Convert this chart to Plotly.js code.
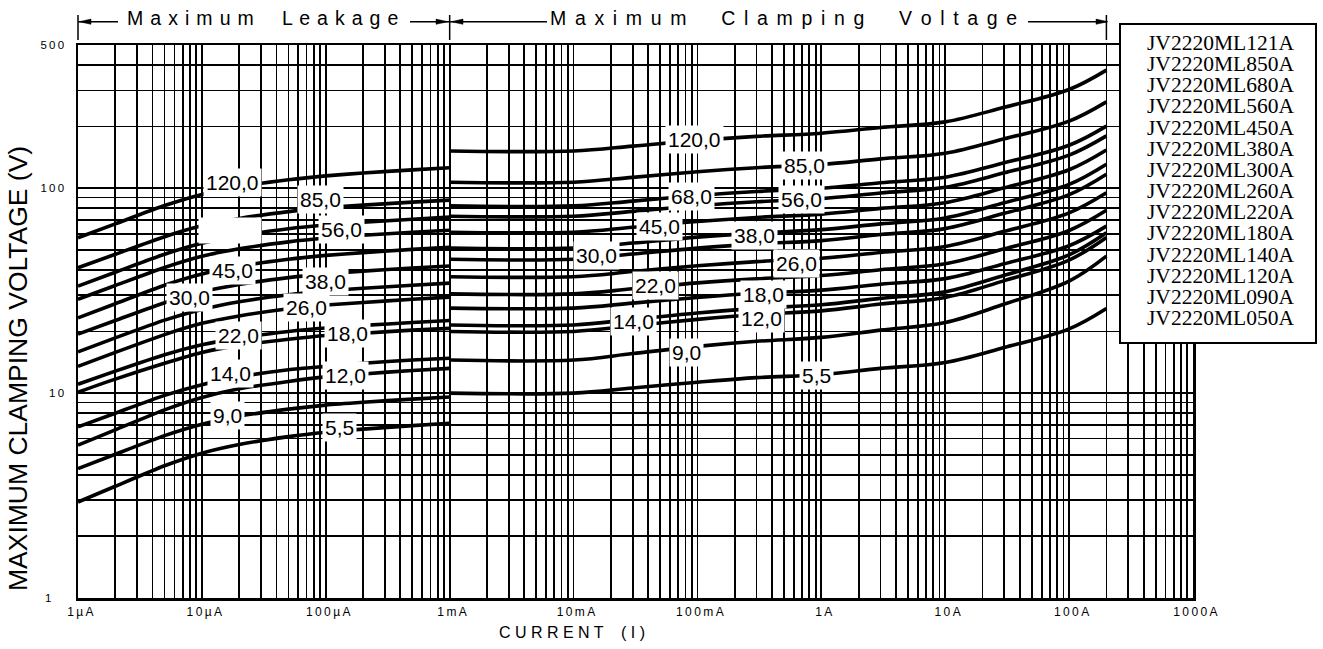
<!DOCTYPE html>
<html><head><meta charset="utf-8">
<script src="https://cdn.plot.ly/plotly-3.0.1.min.js"></script>
<style>html,body{margin:0;padding:0;background:#fff;}#chart{width:1323px;height:649px;}</style>
</head><body><div id="chart"></div>
<script>
// ---------------- DATA ----------------
const leakCurrent  = [1e-6, 2e-6, 5e-6, 1e-5, 2e-5, 5e-5, 1e-4, 2e-4, 5e-4, 1e-3];
const clampCurrent = [1e-3, 1e-2, 3e-2, 1e-1, 3e-1, 1, 3, 10, 30, 100, 200];

const models = ['JV2220ML121A','JV2220ML850A','JV2220ML680A','JV2220ML560A','JV2220ML450A','JV2220ML380A','JV2220ML300A',
                'JV2220ML260A','JV2220ML220A','JV2220ML180A','JV2220ML140A','JV2220ML120A','JV2220ML090A','JV2220ML050A'];
const curveLabels = ['120,0','85,0','68,0','56,0','45,0','38,0','30,0','26,0','22,0','18,0','14,0','12,0','9,0','5,5'];

// leakage region (1µA .. 1mA), volts
const leak121 = [57.3, 67.0, 82.3, 93.3, 101.8, 110.0, 114.9, 118.6, 122.9, 125.8];
const leak850 = [40.9, 47.6, 58.0, 65.5, 71.2, 76.9, 80.2, 82.7, 85.5, 87.5];
const leak680 = [33.3, 38.9, 47.6, 53.8, 58.6, 63.4, 66.1, 68.2, 70.6, 72.3];
const leak560 = [28.7, 33.5, 41.0, 46.5, 50.6, 54.7, 57.1, 58.9, 61.0, 62.4];
const leak450 = [23.3, 27.3, 33.6, 38.1, 41.6, 45.0, 47.0, 48.5, 50.3, 51.5];
const leak380 = [19.4, 22.6, 27.6, 31.2, 33.9, 36.6, 38.2, 39.4, 40.8, 41.7];
const leak300 = [15.9, 18.6, 22.7, 25.6, 27.9, 30.2, 31.5, 32.5, 33.6, 34.4];
const leak260 = [13.5, 15.8, 19.3, 21.9, 23.8, 25.8, 26.9, 27.7, 28.7, 29.4];
const leak220 = [11.05, 12.8, 15.4, 17.2, 18.6, 20.0, 20.8, 21.4, 22.1, 22.6];
const leak180 = [10.1, 11.7, 14.0, 15.8, 17.1, 18.3, 19.1, 19.6, 20.3, 20.7];
const leak140 = [6.84, 7.98, 9.75, 11.0, 12.0, 13.0, 13.5, 14.0, 14.5, 14.8];
const leak120 = [5.57, 6.62, 8.28, 9.51, 10.5, 11.4, 12.0, 12.4, 12.9, 13.2];
const leak090 = [4.28, 5.03, 6.20, 7.05, 7.71, 8.35, 8.74, 9.02, 9.35, 9.58];
const leak050 = [2.94, 3.51, 4.42, 5.09, 5.61, 6.13, 6.44, 6.67, 6.94, 7.13];

// clamping region (1mA .. 200A), volts
const clamp121 = [152, 152, 160.5, 171.2, 179.1, 185.6, 197.8, 210.8, 248.2, 303.1, 377];
const clamp850 = [107, 107, 113.0, 120.3, 125.9, 130.5, 139.0, 148.1, 174.2, 212.6, 264];
const clamp680 = [82, 82, 86.5, 92.1, 96.4, 99.9, 106.3, 113.2, 133.1, 162.1, 201];
const clamp560 = [73, 73, 77.1, 82.1, 85.9, 89.0, 94.8, 101.0, 118.9, 145.0, 180];
const clamp450 = [61, 61, 64.5, 68.8, 72.0, 74.7, 79.7, 85.0, 100.4, 123.0, 153.5];
const clamp380 = [51, 51, 54.0, 57.7, 60.4, 62.8, 67.0, 71.6, 84.9, 104.4, 131];
const clamp300 = [45, 45, 47.7, 51.0, 53.5, 55.5, 59.4, 63.5, 75.4, 93.0, 117];
const clamp260 = [37, 37, 39.2, 41.8, 43.8, 45.5, 48.6, 52.0, 61.6, 75.8, 95];
const clamp220 = [30.5, 30.5, 32.3, 34.5, 36.1, 37.5, 40.0, 42.8, 50.6, 62.2, 78];
const clamp180 = [26, 26, 27.5, 29.3, 30.7, 31.8, 34.0, 36.2, 42.8, 52.4, 65.3];
const clamp140 = [21.5, 21.5, 22.9, 24.6, 25.9, 27.0, 29.0, 31.2, 37.6, 47.3, 60.6];
const clamp120 = [20, 20, 21.3, 22.9, 24.2, 25.2, 27.2, 29.3, 35.4, 44.6, 57.5];
const clamp090 = [14.5, 14.5, 15.6, 16.9, 17.9, 18.7, 20.3, 22.1, 27.2, 35.2, 46.6];
const clamp050 = [10, 10, 10.6, 11.3, 11.9, 12.3, 13.2, 14.1, 16.7, 20.6, 25.9];

// label anchor points (current A, voltage V)
const leakLabelI  = [1.78e-5, 9.14e-5, 1.69e-5, 1.33e-4, 1.78e-5, 9.86e-5, 8.0e-6, 7.05e-5, 1.99e-5, 1.51e-4, 1.69e-5, 1.43e-4, 1.6e-5, 1.28e-4];
const leakLabelV  = [107.1, 88.5, 62.4, 63.1, 39.8, 35.2, 29.4, 26.3, 19.2, 19.6, 12.5, 12.2, 7.8, 6.8];
const clampLabelI = [0.095, 0.738, 0.0897, 0.697, 0.0498, 0.291, 0.01535, 0.631, 0.0462, 0.34, 0.0303, 0.33, 0.0819, 0.916];
const clampLabelV = [173.7, 129.7, 90.8, 88.5, 65.3, 59.0, 47.1, 42.9, 33.6, 30.3, 22.3, 23.1, 15.8, 12.2];

// axes
const xDecades = [1e-6, 1e-5, 1e-4, 1e-3, 1e-2, 1e-1, 1, 10, 100, 1000];
const xDecadeLabels = ['1µA','10µA','100µA','1mA','10mA','100mA','1A','10A','100A','1000A'];
const yLabelVals = [1, 10, 100, 500];
const yLabelText = ['1', '10', '100', '500'];

const titleLeak = 'Maximum Leakage';
const titleClamp = 'Maximum Clamping Voltage';
const xTitle = 'CURRENT (I)';
const yTitle = 'MAXIMUM CLAMPING VOLTAGE (V)';

// ---------------- BUILD ----------------
const leakSeries  = [leak121, leak850, leak680, leak560, leak450, leak380, leak300, leak260, leak220, leak180, leak140, leak120, leak090, leak050];
const clampSeries = [clamp121, clamp850, clamp680, clamp560, clamp450, clamp380, clamp300, clamp260, clamp220, clamp180, clamp140, clamp120, clamp090, clamp050];

const spaced = (s, sep) => s.split('').map(c => c === ' ' ? sep + sep : c).join(sep);

const leakStyle  = {color: '#000', width: 3.6, shape: 'spline', smoothing: 0.6};
const clampStyle = {color: '#000', width: 3.6, shape: 'spline', smoothing: 1.0};
const traces = [];
models.forEach((m, i) => {
  traces.push({type: 'scatter', mode: 'lines', name: m, x: leakCurrent, y: leakSeries[i], line: leakStyle, showlegend: false, hoverinfo: 'skip'});
  traces.push({type: 'scatter', mode: 'lines', name: m, x: clampCurrent, y: clampSeries[i], line: clampStyle, showlegend: false, hoverinfo: 'skip'});
});

// gridlines at every 1..9 multiple
const xGrid = [], xText = [];
xDecades.forEach((d, k) => {
  const mults = k < xDecades.length - 1 ? [1,2,3,4,5,6,7,8,9] : [1];
  mults.forEach(m => { xGrid.push(d * m); xText.push(m === 1 ? '\u2009\u2009' + spaced(xDecadeLabels[k], '\u2009') : ''); });
});
const yGrid = [], yText = [];
[1, 10, 100].forEach(d => {
  const mults = d === 100 ? [1,2,3,4,5] : [1,2,3,4,5,6,7,8,9];
  mults.forEach(m => {
    const v = d * m;
    const idx = yLabelVals.indexOf(v);
    let t = idx >= 0 ? spaced(yLabelText[idx], '\u2009') : '';
    if (v === 1) t = t + '\u00a0\u00a0\u00a0\u00a0';
    yGrid.push(v); yText.push(t);
  });
});

// pixel helpers for decorations (plot area 78..1193 x 45..598)
const PL = 78, PT = 45, PW = 1115, PH = 553;
const px = p => (p - PL) / PW;
const py = p => (PT + PH - p) / PH;
const xFrac = v => (Math.log10(v) + 6) / 9;

const sans = 'Liberation Sans, Arial, sans-serif';

const annotations = [];
// curve labels
curveLabels.forEach((t, i) => {
  const blank = (i === 2);
  const a = {xref: 'x', yref: 'y', x: Math.log10(leakLabelI[i]), y: Math.log10(leakLabelV[i]),
             text: blank ? '\u00a0' : t, showarrow: false, bgcolor: '#fff', borderpad: 2,
             font: {family: sans, size: 21, color: '#000'}};
  if (blank) { a.width = 58; a.height = 21; }
  annotations.push(a);
  annotations.push({xref: 'x', yref: 'y', x: Math.log10(clampLabelI[i]), y: Math.log10(clampLabelV[i]),
             text: t, showarrow: false, bgcolor: '#fff', borderpad: 2,
             font: {family: sans, size: 21, color: '#000'}});
});
// legend entries
models.forEach((m, i) => {
  annotations.push({xref: 'paper', yref: 'paper', x: px(1145), y: py(43 + i * 21.15), xanchor: 'left', yanchor: 'middle',
    text: m, showarrow: false, font: {family: 'Liberation Serif, Times New Roman, serif', size: 21.5, color: '#000'}});
});
// top titles
annotations.push({xref: 'paper', yref: 'paper', x: px(262), y: py(18), xanchor: 'center', yanchor: 'middle',
  text: spaced(titleLeak, ' \u200a'), showarrow: false, font: {family: sans, size: 19.5, color: '#000'}});
annotations.push({xref: 'paper', yref: 'paper', x: px(783), y: py(18), xanchor: 'center', yanchor: 'middle',
  text: spaced(titleClamp, ' \u200a\u200a'), showarrow: false, font: {family: sans, size: 19.5, color: '#000'}});
// axis titles
annotations.push({xref: 'paper', yref: 'paper', x: px(572), y: py(632), xanchor: 'center', yanchor: 'middle',
  text: spaced(xTitle, ' '), showarrow: false, font: {family: sans, size: 16, color: '#000'}});
annotations.push({xref: 'paper', yref: 'paper', x: px(18), y: py(369), xanchor: 'center', yanchor: 'middle', textangle: -90,
  text: yTitle, showarrow: false, font: {family: sans, size: 26.5, color: '#000'}});

// decoration shapes
const shapes = [];
const line = (x0, y0, x1, y1, w) => shapes.push({type: 'line', xref: 'paper', yref: 'paper', x0: x0, y0: y0, x1: x1, y1: y1, line: {color: '#000', width: w || 1.5}});
const xa = xFrac(1e-6), xb = xFrac(1e-3), xc = xFrac(200);
const ya = py(21.7);
[xa, xb, xc].forEach(x => line(x, py(15), x, py(40), 1.5));
line(xa, ya, px(118), ya);
line(px(410), ya, px(547), ya);
line(px(1028), ya, xc, ya);
const arrowPx = (tipPx, dir) => {
  const bx = tipPx - dir * 12;
  shapes.push({type: 'path', xref: 'paper', yref: 'paper',
    path: `M ${px(tipPx)},${ya} L ${px(bx)},${py(21.7 - 2.6)} L ${px(bx)},${py(21.7 + 2.6)} Z`,
    fillcolor: '#000', line: {color: '#000', width: 0.5}});
};
arrowPx(79, -1);
arrowPx(448, 1);
arrowPx(451, -1);
arrowPx(1108, 1);
// legend box
shapes.push({type: 'rect', xref: 'paper', yref: 'paper', x0: px(1120), x1: px(1316), y0: py(343), y1: py(24),
  fillcolor: '#fff', line: {color: '#000', width: 2}, layer: 'above'});

const layout = {
  width: 1323, height: 649,
  margin: {l: PL, r: 1323 - PL - PW, t: PT, b: 649 - PT - PH, pad: 0},
  paper_bgcolor: '#fff', plot_bgcolor: '#fff',
  showlegend: false, hovermode: false,
  xaxis: {type: 'log', range: [-6, 3], tickmode: 'array', tickvals: xGrid, ticktext: xText,
    showgrid: true, gridcolor: '#000', gridwidth: 1.8, zeroline: false,
    showline: true, linecolor: '#000', linewidth: 2.5, mirror: true, ticks: '',
    tickfont: {family: sans, size: 12, color: '#000'}, ticklabelstandoff: 1},
  yaxis: {type: 'log', range: [0, Math.log10(500)], tickmode: 'array', tickvals: yGrid, ticktext: yText,
    showgrid: true, gridcolor: '#000', gridwidth: 1.8, zeroline: false,
    showline: true, linecolor: '#000', linewidth: 2.5, mirror: true, ticks: '',
    tickfont: {family: sans, size: 11.5, color: '#000'}, ticklabelstandoff: 9},
  annotations: annotations,
  shapes: shapes
};

Plotly.newPlot('chart', traces, layout, {displayModeBar: false, staticPlot: true});
</script>
</body></html>
